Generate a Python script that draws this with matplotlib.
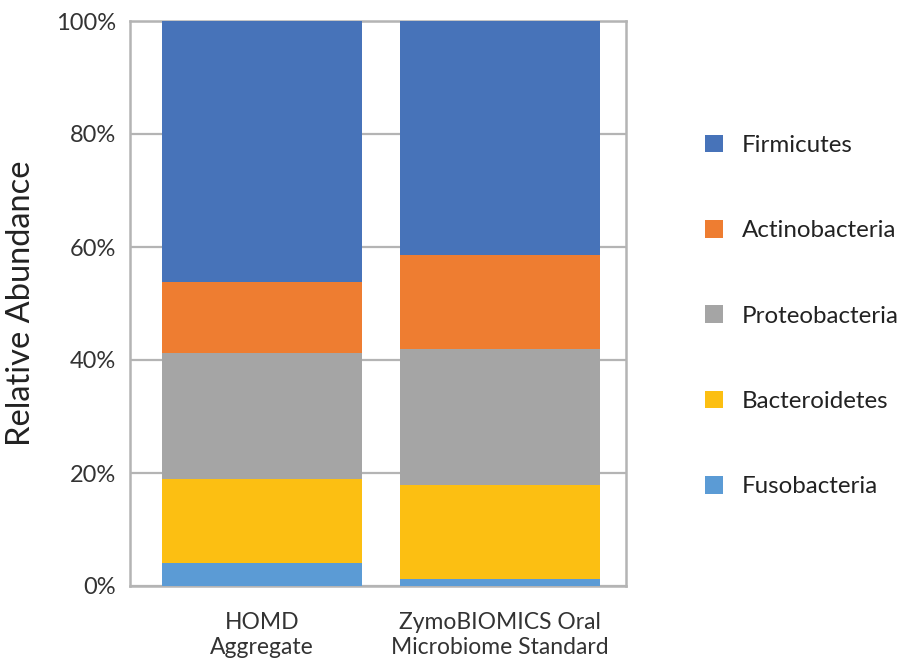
import matplotlib
matplotlib.use("Agg")
import matplotlib.pyplot as plt
from matplotlib.patches import Patch
from matplotlib.ticker import PercentFormatter

plt.rcParams['font.family'] = ['Lato', 'DejaVu Sans']

# data (percent)
samples = ['HOMD\nAggregate', 'ZymoBIOMICS Oral\nMicrobiome Standard']
phyla = ['Fusobacteria', 'Bacteroidetes', 'Proteobacteria', 'Actinobacteria', 'Firmicutes']
fusobacteria = [4.1, 1.2]
bacteroidetes = [14.8, 16.7]
proteobacteria = [22.3, 24.0]
actinobacteria = [12.6, 16.7]
firmicutes = [46.2, 41.4]
colors = ['#5B9BD5', '#FCBF12', '#A5A5A5', '#EE7D31', '#4773B9']

series = [fusobacteria, bacteroidetes, proteobacteria, actinobacteria, firmicutes]

fig = plt.figure(figsize=(9.04, 6.63), dpi=100)
ax = fig.add_axes([130 / 904, 1 - 586 / 663, 496 / 904, 565 / 663])

x = range(len(samples))
bottom = [0, 0]
for vals, col, name in zip(series, colors, phyla):
    ax.bar(x, vals, width=0.84, bottom=bottom, color=col, label=name, zorder=3)
    bottom = [b + v for b, v in zip(bottom, vals)]

ax.set_xlim(-0.555, 1.53)
ax.set_ylim(0, 100)
ax.set_yticks([0, 20, 40, 60, 80, 100])
ax.yaxis.set_major_formatter(PercentFormatter(decimals=0))
ax.set_xticks(list(x))
ax.set_xticklabels(samples, fontsize=16.5, color='#333333', linespacing=1.22)
ax.tick_params(axis='y', length=0, pad=10, labelsize=17, labelcolor='#333333')
ax.tick_params(axis='x', length=0, pad=19)
ax.grid(axis='y', color='#B4B4B4', linewidth=1.6, zorder=0)
for s in ax.spines.values():
    s.set_color('#B4B4B4')
    s.set_linewidth(1.8)
    s.set_zorder(1)

ax.set_ylabel('Relative Abundance', fontsize=23.5, color='#222222')
ax.yaxis.set_label_coords(-0.19, 0.5)

handles = [Patch(facecolor=c, label=n) for c, n in zip(colors, phyla)][::-1]
fig.legend(handles=handles, loc='center left', bbox_to_anchor=(683 / 904, 1 - 316 / 663),
           frameon=False, fontsize=17.4, labelspacing=2.65, handlelength=0.75,
           handleheight=0.75, handletextpad=0.8, labelcolor='#222222')

fig.savefig('out.png', dpi=100)
